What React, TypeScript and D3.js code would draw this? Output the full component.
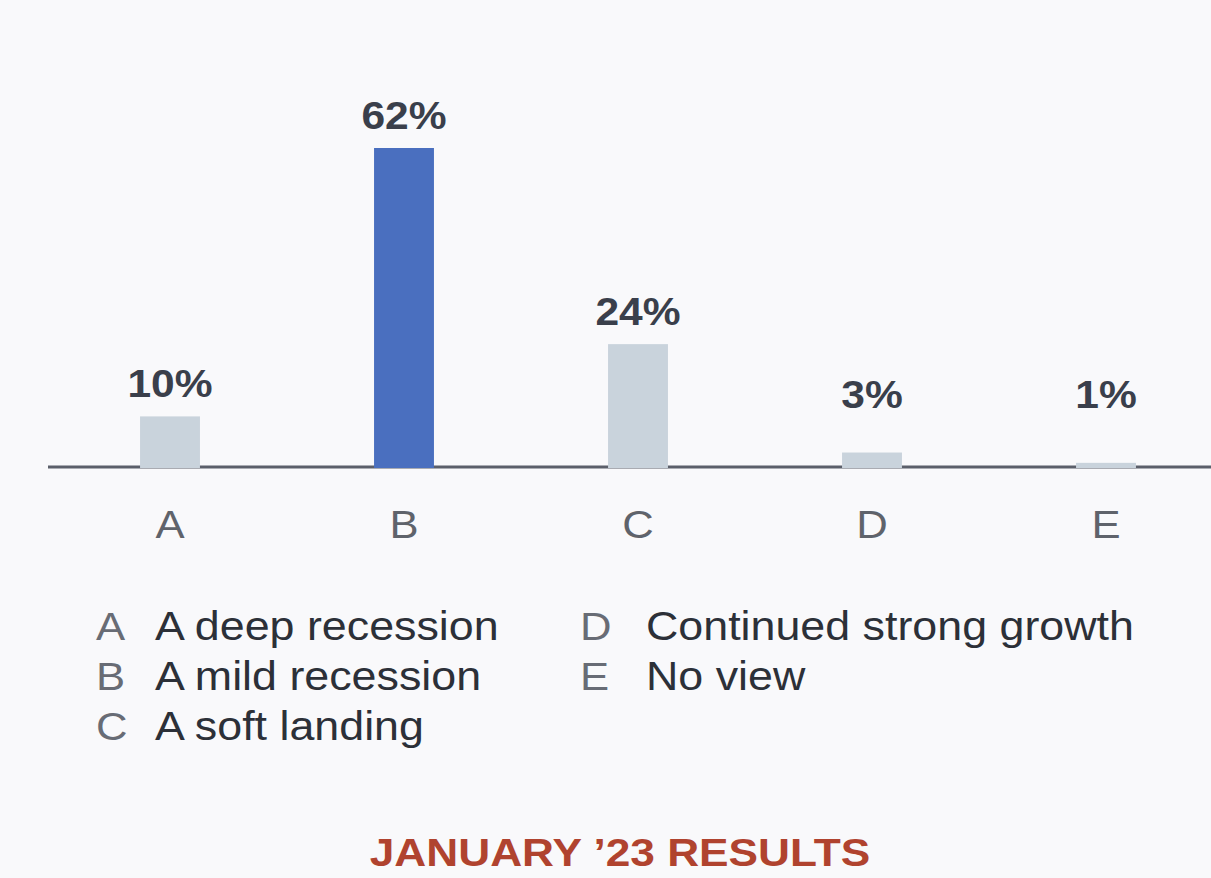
import * as d3 from "d3";
import { useEffect, useRef } from "react";

const categories = ["A", "B", "C", "D", "E"];
const values = [10, 62, 24, 3, 1];
const highlight = "B";

const legendLetters = ["A", "B", "C", "D", "E"];
const legendTexts = [
  "A deep recession",
  "A mild recession",
  "A soft landing",
  "Continued strong growth",
  "No view",
];

const title = "JANUARY \u201923 RESULTS";

export default function App() {
  const ref = useRef<SVGSVGElement | null>(null);

  useEffect(() => {
    if (!ref.current) return;
    const svg = d3.select(ref.current);
    svg.selectAll("*").remove();

    const width = 1211;
    const height = 878;
    const font = "'Liberation Sans', Arial, sans-serif";
    const sx = 1.12; // text in the source is a bit stretched horizontally

    svg.append("rect").attr("width", width).attr("height", height).attr("fill", "#f9f9fb");

    const x = d3
      .scaleBand()
      .domain(categories)
      .range([53, 1223])
      .paddingInner(0.744)
      .paddingOuter(0.372);

    const y = d3.scaleLinear().domain([0, 62]).range([468, 148]);

    // helper for stretched text
    const addText = (
      tx: number,
      ty: number,
      txt: string,
      size: number,
      color: string,
      anchor: string,
      weight = "normal"
    ) =>
      svg
        .append("text")
        .attr("transform", `translate(${tx},${ty}) scale(${sx},1)`)
        .attr("text-anchor", anchor)
        .style("font-family", font)
        .style("font-size", `${size}px`)
        .style("font-weight", weight)
        .style("fill", color)
        .text(txt);

    // baseline
    svg
      .append("line")
      .attr("x1", 48)
      .attr("x2", width)
      .attr("y1", y(0) - 1)
      .attr("y2", y(0) - 1)
      .attr("stroke", "#5b5f6a")
      .attr("stroke-width", 3);

    const data = categories.map((c, i) => ({ cat: c, v: values[i] }));

    svg
      .selectAll("rect.bar")
      .data(data)
      .enter()
      .append("rect")
      .attr("class", "bar")
      .attr("x", (d) => x(d.cat)!)
      .attr("y", (d) => y(d.v))
      .attr("width", x.bandwidth())
      .attr("height", (d) => y(0) - y(d.v))
      .attr("fill", (d) => (d.cat === highlight ? "#4a6fbf" : "#c9d3dc"));

    // value labels
    data.forEach((d) => {
      const cx = x(d.cat)! + x.bandwidth() / 2;
      const top = Math.min(y(d.v), y(8));
      addText(cx, top - 19, `${d.v}%`, 38, "#3a3f4b", "middle", "bold");
    });

    // category labels
    categories.forEach((c) => {
      addText(x(c)! + x.bandwidth() / 2, 538, c, 39, "#5f636b", "middle");
    });

    // legend, two columns
    const cols = [
      { lx: 96, tx: 155 },
      { lx: 580, tx: 646 },
    ];
    legendLetters.forEach((l, i) => {
      const col = cols[i < 3 ? 0 : 1];
      const row = i < 3 ? i : i - 3;
      const by = 640 + row * 50;
      addText(col.lx, by, l, 39, "#686c75", "start");
      addText(col.tx, by, legendTexts[i], 40, "#2c3038", "start");
    });

    // footer title
    addText(620, 866, title, 39.5, "#b0432f", "middle", "bold");
  }, []);

  return (
    <svg
      ref={ref}
      width={1211}
      height={878}
      style={{ position: "absolute", left: 0, top: 0, display: "block" }}
    />
  );
}
